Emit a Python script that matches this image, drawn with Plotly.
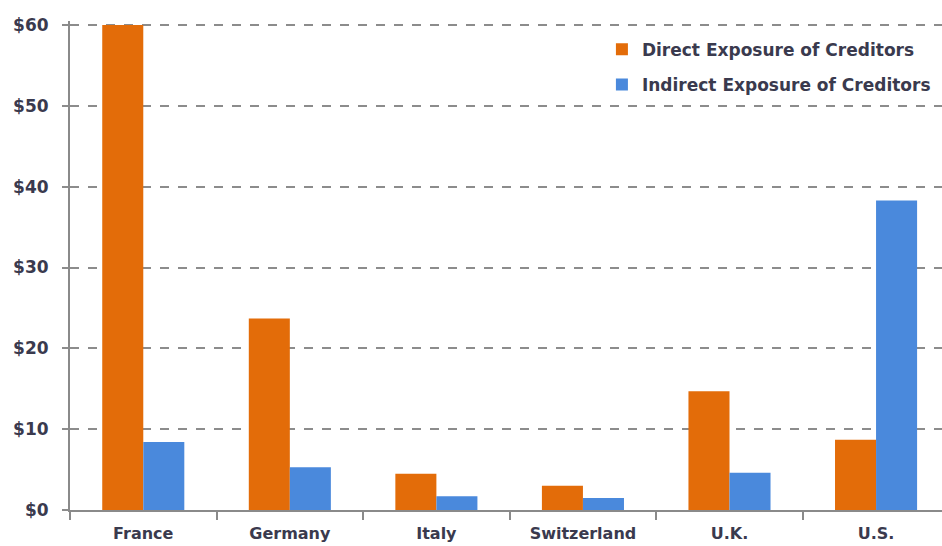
import plotly.graph_objects as go

countries = ["France", "Germany", "Italy", "Switzerland", "U.K.", "U.S."]
direct = [60.0, 23.7, 4.5, 3.0, 14.7, 8.7]
indirect = [8.4, 5.3, 1.7, 1.5, 4.6, 38.3]
y_ticks = [0, 10, 20, 30, 40, 50, 60]
y_tick_text = ["$0", "$10", "$20", "$30", "$40", "$50", "$60"]

FONT = "DejaVu Sans, sans-serif"
TXT = "#3a3a4e"

fig = go.Figure()
fig.add_trace(go.Bar(x=countries, y=direct, name="Direct Exposure of Creditors",
                     marker=dict(color="#E36C09", line=dict(width=0)), legendgroup="a"))
fig.add_trace(go.Bar(x=countries, y=indirect, name="Indirect Exposure of Creditors",
                     marker=dict(color="#4A89DC", line=dict(width=0)), legendgroup="b"))

fig.update_layout(
    width=942, height=546,
    margin=dict(l=70, r=0, t=21, b=36, autoexpand=False),
    paper_bgcolor="white", plot_bgcolor="white",
    barmode="group", bargap=0.44, bargroupgap=0,
    font=dict(family=FONT, size=17, color=TXT, weight="bold"),
    showlegend=True,
    legend=dict(x=0.61, y=0.978, xanchor="left", yanchor="top",
                bgcolor="rgba(0,0,0,0)", tracegroupgap=10,
                font=dict(family=FONT, size=17, color=TXT, weight="bold"), itemwidth=30),
    xaxis=dict(range=[-0.5, 5.45], showgrid=False, showline=True, linecolor="#8a8a8a",
               linewidth=2, ticks="outside", tickson="boundaries", ticklen=8,
               tickcolor="#8a8a8a", tickwidth=1.5, ticklabelstandoff=8, automargin=False,
               tickfont=dict(family=FONT, size=16, color=TXT, weight="bold")),
    yaxis=dict(range=[0, 60.5], tickvals=y_ticks, ticktext=y_tick_text, automargin=False,
               showgrid=True, gridcolor="#8c8c8c", gridwidth=2, griddash="dash",
               showline=True, linecolor="#8a8a8a", linewidth=2, zeroline=False,
               ticks="outside", ticklen=6, tickcolor="#8c8c8c", tickwidth=2,
               ticklabelstandoff=10, tickfont=dict(family=FONT, size=17, color=TXT, weight="bold")),
)
fig.write_html("out.html")
